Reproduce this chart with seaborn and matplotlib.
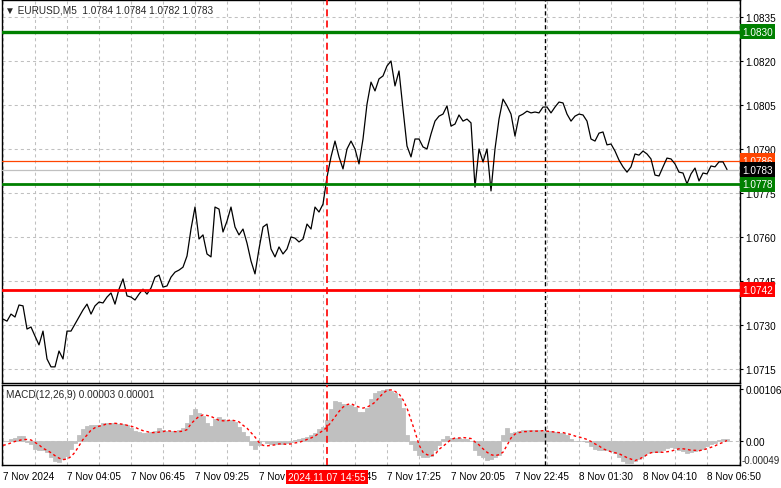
import numpy as np
import pandas as pd
import seaborn as sns
import matplotlib.pyplot as plt
from matplotlib.ticker import FormatStrFormatter
from matplotlib.transforms import blended_transform_factory

# EURUSD M5, one value every 10 minutes
close = [
    1.07320, 1.07313, 1.07337, 1.07327, 1.07368, 1.07365, 1.07286, 1.07293, 1.07262, 1.07232,
    1.07279, 1.07184, 1.07157, 1.07157, 1.07211, 1.07184, 1.07279, 1.07279, 1.07303, 1.07327,
    1.07351, 1.07371, 1.07337, 1.07365, 1.07378, 1.07375, 1.07395, 1.07409, 1.07371, 1.07422,
    1.07457, 1.07399, 1.07395, 1.07385, 1.07405, 1.07422, 1.07405, 1.07426, 1.07463, 1.07470,
    1.07429, 1.07433, 1.07463, 1.07480, 1.07487, 1.07497, 1.07535, 1.07627, 1.07702, 1.07593,
    1.07607, 1.07542, 1.07532, 1.07702, 1.07695, 1.07617, 1.07654, 1.07702, 1.07634, 1.07607,
    1.07627, 1.07579, 1.07518, 1.07474, 1.07559, 1.07634, 1.07644, 1.07559, 1.07532, 1.07566,
    1.07542, 1.07559, 1.07600, 1.07596, 1.07583, 1.07593, 1.07644, 1.07627, 1.07702, 1.07685,
    1.07712, 1.07804, 1.07873, 1.07927, 1.07873, 1.07832, 1.07900, 1.07927, 1.07900, 1.07849,
    1.07934, 1.08053, 1.08128, 1.08098, 1.08139, 1.08149, 1.08183, 1.08200, 1.08115, 1.08166,
    1.08036, 1.07910, 1.07873, 1.07934, 1.07934, 1.07907, 1.07900, 1.07951, 1.07995, 1.08012,
    1.08019, 1.08047, 1.07978, 1.07985, 1.08016, 1.07995, 1.08002, 1.07989, 1.07770, 1.07900,
    1.07856, 1.07900, 1.07757, 1.07900, 1.08002, 1.08070, 1.08047, 1.08019, 1.07944, 1.08012,
    1.08019, 1.08029, 1.08023, 1.08026, 1.08023, 1.08043, 1.08043, 1.08023, 1.08043, 1.08060,
    1.08057, 1.08019, 1.07995, 1.08012, 1.08019, 1.08016, 1.07995, 1.07934, 1.07927, 1.07954,
    1.07958, 1.07914, 1.07917, 1.07893, 1.07862, 1.07839, 1.07821, 1.07839, 1.07883, 1.07879,
    1.07893, 1.07883, 1.07866, 1.07811, 1.07808, 1.07839, 1.07869, 1.07866, 1.07849, 1.07821,
    1.07818, 1.07781, 1.07815, 1.07835, 1.07791, 1.07818, 1.07815, 1.07842, 1.07839, 1.07856,
    1.07856, 1.07830,
]

macd_hist = [
    0.0, 0.0, 0.00003, 0.00006, 0.00010, 0.00010, -0.00002, -0.00007, -0.00016, -0.00019,
    -0.00019, -0.00023, -0.00032, -0.00040, -0.00043, -0.00037, -0.00030, -0.00016, -0.00004, 0.00012,
    0.00024, 0.00030, 0.00032, 0.00032, 0.00032, 0.00036, 0.00037, 0.00036, 0.00036, 0.00035,
    0.00034, 0.00032, 0.00026, 0.00021, 0.00019, 0.00017, 0.00017, 0.00018, 0.00021, 0.00026,
    0.00022, 0.00021, 0.00021, 0.00021, 0.00022, 0.00026, 0.00036, 0.00053, 0.00065, 0.00057,
    0.00050, 0.00037, 0.00031, 0.00044, 0.00048, 0.00044, 0.00043, 0.00043, 0.00039, 0.00028,
    0.00019, 0.00010, -0.00009, -0.00017, -0.00009, -0.00001, -0.00004, -0.00006, -0.00006, -0.00006,
    -0.00006, -0.00005, -0.00002, 0.00001, 0.00003, 0.00006, 0.00008, 0.00012, 0.00017, 0.00024,
    0.00028, 0.00043, 0.00065, 0.00081, 0.00079, 0.00076, 0.00074, 0.00074, 0.00070, 0.00060,
    0.00060, 0.00067, 0.00086, 0.00098, 0.00101, 0.00104, 0.00106, 0.00102, 0.00097, 0.00088,
    0.00067, 0.00012, -0.00006, -0.00019, -0.00028, -0.00032, -0.00033, -0.00030, -0.00019, -0.00008,
    0.00003, 0.00010, 0.00007, 0.00005, 0.00005, 0.00003, 0.00003, 0.0, -0.00019, -0.00028,
    -0.00032, -0.00039, -0.00037, -0.00032, -0.00028, 0.00012, 0.00026, 0.00017, 0.00018, 0.00020,
    0.00022, 0.00023, 0.00023, 0.00023, 0.00022, 0.00021, 0.00021, 0.00020, 0.00019, 0.00017,
    0.00017, 0.00012, 0.00003, 0.0, 0.0, -0.00001, -0.00003, -0.00011, -0.00017, -0.00019,
    -0.00019, -0.00019, -0.00021, -0.00025, -0.00032, -0.00040, -0.00045, -0.00045, -0.00040, -0.00037,
    -0.00030, -0.00025, -0.00023, -0.00023, -0.00022, -0.00019, -0.00015, -0.00012, -0.00014, -0.00018,
    -0.00021, -0.00025, -0.00023, -0.00021, -0.00019, -0.00016, -0.00011, -0.00007, -0.00004, 0.00001,
    0.00004, 0.00003,
]

macd_signal = [
    -0.00009, -0.00007, -0.00004, -0.00001, 0.00001, 0.00003, 0.00003, 0.00002, -0.00003, -0.00008,
    -0.00015, -0.00019, -0.00024, -0.00030, -0.00035, -0.00038, -0.00037, -0.00032, -0.00023, -0.00010,
    0.00003, 0.00012, 0.00022, 0.00027, 0.00030, 0.00032, 0.00035, 0.00035, 0.00036, 0.00035,
    0.00034, 0.00032, 0.00030, 0.00028, 0.00024, 0.00021, 0.00019, 0.00017, 0.00017, 0.00018,
    0.00019, 0.00021, 0.00020, 0.00019, 0.00019, 0.00020, 0.00023, 0.00035, 0.00043, 0.00050,
    0.00053, 0.00052, 0.00050, 0.00046, 0.00042, 0.00041, 0.00041, 0.00043, 0.00041, 0.00039,
    0.00032, 0.00026, 0.00017, 0.00008, -0.00003, -0.00009, -0.00010, -0.00009, -0.00008, -0.00006,
    -0.00006, -0.00007, -0.00006, -0.00004, -0.00003, 0.0, 0.00003, 0.00006, 0.00010, 0.00016,
    0.00021, 0.00028, 0.00038, 0.00049, 0.00060, 0.00069, 0.00074, 0.00076, 0.00072, 0.00069,
    0.00067, 0.00069, 0.00073, 0.00079, 0.00088, 0.00097, 0.00103, 0.00104, 0.00101, 0.00096,
    0.00084, 0.00067, 0.00043, 0.00019, -0.00008, -0.00023, -0.00028, -0.00030, -0.00028, -0.00017,
    -0.00011, -0.00004, 0.00003, 0.00006, 0.00006, 0.00007, 0.00006, 0.00005, -0.00002, -0.00008,
    -0.00016, -0.00023, -0.00028, -0.00030, -0.00028, -0.00023, -0.00009, 0.00006, 0.00014, 0.00017,
    0.00019, 0.00019, 0.00020, 0.00020, 0.00020, 0.00021, 0.00020, 0.00019, 0.00018, 0.00017,
    0.00017, 0.00015, 0.00013, 0.00010, 0.00008, 0.00006, 0.00003, -0.00001, -0.00006, -0.00010,
    -0.00016, -0.00019, -0.00022, -0.00024, -0.00026, -0.00030, -0.00034, -0.00037, -0.00040, -0.00037,
    -0.00033, -0.00028, -0.00024, -0.00023, -0.00023, -0.00023, -0.00022, -0.00021, -0.00018, -0.00016,
    -0.00016, -0.00017, -0.00019, -0.00019, -0.00020, -0.00018, -0.00016, -0.00013, -0.00010, -0.00006,
    -0.00003, 0.00001,
]

time_tick_pos = [0, 16, 32, 48, 64, 80, 96, 112, 128, 144, 160, 176]
time_tick_labels = ["7 Nov 2024", "7 Nov 04:05", "7 Nov 06:45", "7 Nov 09:25", "7 Nov 12:05",
                    "7 Nov 14:45", "7 Nov 17:25", "7 Nov 20:05", "7 Nov 22:45", "8 Nov 01:30",
                    "8 Nov 04:10", "8 Nov 06:50"]
price_ticks = [1.0715, 1.0730, 1.0745, 1.0760, 1.0775, 1.0790, 1.0805, 1.0820, 1.0835]
level_prices = [1.0830, 1.0786, 1.0783, 1.0778, 1.0742]
cursor_bar = 81
cursor_label = "2024.11.07 14:55"
day_break_bar = 135.5

df = pd.DataFrame({"bar": np.arange(len(close)), "close": close,
                   "hist": macd_hist, "signal": macd_signal})

sns.set_style("white")
plt.rcParams["font.family"] = ["Liberation Sans", "DejaVu Sans"]
plt.rcParams["font.size"] = 7.2
plt.rcParams["lines.scale_dashes"] = False

W, H = 781, 489
fig = plt.figure(figsize=(W / 100, H / 100), dpi=100)


def px_rect(x0, y0, x1, y1):
    return [x0 / W, 1 - y1 / H, (x1 - x0) / W, (y1 - y0) / H]


ax = fig.add_axes(px_rect(2, 1, 740, 384))
ax2 = fig.add_axes(px_rect(2, 386, 740, 466))

grid_kw = dict(color="#c0c0c0", ls=(0, (2.2, 2.2)), lw=0.75)

# price line
sns.lineplot(data=df, x="bar", y="close", color="black", lw=0.9, ax=ax, zorder=4)

# MACD histogram + signal
sns.barplot(data=df, x="bar", y="hist", native_scale=True, color="#c0c0c0",
            saturation=1, width=1.0, linewidth=0.6, edgecolor="#c0c0c0",
            errorbar=None, ax=ax2, zorder=2)
sns.lineplot(data=df, x="bar", y="signal", color="red", lw=1.0,
             ls=(0, (2, 2)), ax=ax2, zorder=4)
ax2.axhline(0, zorder=1, **grid_kw)

for a in (ax, ax2):
    a.set_xlim(-0.25, 184.25)
    a.set_xticks(time_tick_pos)
    a.set_xticks(np.arange(0, 185, 8), minor=True)
    a.grid(True, which="both", axis="x", **grid_kw)
    a.set_axisbelow(True)
    a.set_xlabel("")
    a.set_ylabel("")
    a.yaxis.tick_right()
    for s in a.spines.values():
        s.set_color("black")
        s.set_linewidth(1)
    a.axvline(cursor_bar, color="red", ls=(0, (5, 3)), lw=1.2, zorder=5)
    a.axvline(day_break_bar, color="black", ls=(0, (3, 2)), lw=1.0, zorder=5)

# main panel
ax.set_ylim(1.07102, 1.08408)
ax.set_yticks(price_ticks)
ax.yaxis.set_major_formatter(FormatStrFormatter("%.4f"))
ax.grid(True, axis="y", **grid_kw)
ax.tick_params(axis="x", which="both", length=0, labelbottom=False)
ax.tick_params(axis="y", length=2.5, width=0.8, pad=1.5, colors="black", labelsize=7.2)

level_colors = ["#008000", "#ff4500", "#c0c0c0", "#008000", "#ff0000"]
level_widths = [2.4, 0.9, 0.9, 2.0, 2.0]
box_colors = ["#008000", "#ff4500", "black", "#008000", "#ff0000"]
trans = blended_transform_factory(ax.transAxes, ax.transData)
for p, c, lw, bc in zip(level_prices, level_colors, level_widths, box_colors):
    ax.axhline(p, color=c, lw=lw, zorder=3 if lw < 1 else 6)
    ax.text(1.003, p, f"{p:.4f}", transform=trans, ha="left", va="center",
            color="white", fontsize=7.2, zorder=10, clip_on=False,
            bbox=dict(boxstyle="square,pad=0.25", fc=bc, ec="none"))

ax.text(0.004, 0.988, "\u25bc EURUSD,M5  1.0784 1.0784 1.0782 1.0783",
        transform=ax.transAxes, ha="left", va="top", fontsize=7.2)

# MACD panel
ax2.set_ylim(-0.00049, 0.00114)
ax2.set_yticks([0.0, 0.00106])
ax2.set_yticklabels(["0.00", "0.00106"])
ax2.grid(False, axis="y")
ax2.tick_params(axis="y", length=2.5, width=0.8, pad=1.5, colors="black", labelsize=7.2)
ax2.text(1.002, -0.00049, "-0.00049",
         transform=blended_transform_factory(ax2.transAxes, ax2.transData),
         ha="left", va="bottom", fontsize=7, clip_on=False)
ax2.set_xticklabels(time_tick_labels, ha="left")
ax2.tick_params(axis="x", which="major", length=2.5, width=0.8, pad=2, colors="black", labelsize=7.2)
ax2.tick_params(axis="x", which="minor", length=0)
ax2.text(0.006, 0.95, "MACD(12,26,9) 0.00003 0.00001", transform=ax2.transAxes,
         ha="left", va="top", fontsize=7.2)
ax2.text(cursor_bar, -0.15, cursor_label,
         transform=blended_transform_factory(ax2.transData, ax2.transAxes),
         ha="center", va="center", color="white", fontsize=7.2, zorder=10, clip_on=False,
         bbox=dict(boxstyle="square,pad=0.2", fc="red", ec="none"))

fig.savefig("out.png", dpi=100)
